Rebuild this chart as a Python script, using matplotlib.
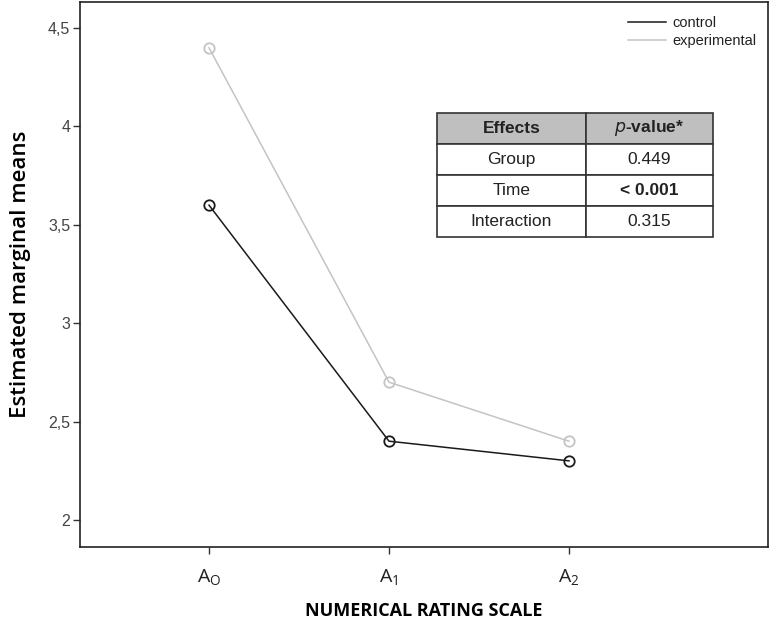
import matplotlib.pyplot as plt
from matplotlib.lines import Line2D
import numpy as np

# data
time_points = ['A$_\\mathregular{O}$', 'A$_\\mathregular{1}$', 'A$_\\mathregular{2}$']
control = [3.6, 2.4, 2.3]
experimental = [4.4, 2.7, 2.4]
y_ticks = [2, 2.5, 3, 3.5, 4, 4.5]
y_tick_labels = ['2', '2,5', '3', '3,5', '4', '4,5']

effects = ['Group', 'Time', 'Interaction']
p_values = ['0.449', '< 0.001', '0.315']

plt.rcParams['font.family'] = ['Liberation Sans', 'DejaVu Sans']

fig = plt.figure(figsize=(7.71, 6.21), dpi=100)
ax = fig.add_axes([80 / 771, 1 - 547 / 621, 688 / 771, 545 / 621])

dark = '#1a1a1a'
light = '#c4c4c4'
x = np.arange(len(time_points))
ax.plot(x, control, color=dark, lw=1.1, marker='o', ms=7.5,
        mfc='none', mec=dark, mew=1.3)
ax.plot(x, experimental, color=light, lw=1.1, marker='o', ms=7.5,
        mfc='none', mec=light, mew=1.3)

ax.set_xlim(-0.717, 3.106)
ax.set_ylim(1.862, 4.633)
ax.set_xticks(x)
ax.set_xticklabels(time_points, fontsize=14, family='Open Sans')
ax.set_yticks(y_ticks)
ax.set_yticklabels(y_tick_labels, fontsize=11.5)
ax.tick_params(axis='both', direction='out', length=5, width=1, colors='#333333')
ax.tick_params(axis='x', pad=10, labelcolor='#222222')
ax.tick_params(axis='y', pad=2, labelcolor='#444444')
for s in ax.spines.values():
    s.set_linewidth(1.2)
    s.set_color('#222222')

ax.set_ylabel('Estimated marginal means', fontsize=16, family='Open Sans',
              fontweight='semibold', labelpad=12)
ax.set_xlabel('NUMERICAL RATING SCALE', fontsize=13, family='Open Sans',
              fontweight='bold', labelpad=10)

handles = [Line2D([], [], color=dark, lw=1.1), Line2D([], [], color=light, lw=1.1)]
leg = ax.legend(handles, ['control', 'experimental'], loc='upper right',
                bbox_to_anchor=(1.0, 0.995), frameon=False,
                fontsize=10.5, handlelength=2.6, handletextpad=0.4,
                labelspacing=0.25, borderaxespad=0.4)
for t in leg.get_texts():
    t.set_color('#222222')

# effects table
tbl = ax.table(cellText=[[e, p] for e, p in zip(effects, p_values)],
               colLabels=['Effects', '$\\mathbf{\\it{p}}$-value*'],
               cellLoc='center', colWidths=[149 / 688, 127 / 688],
               bbox=[(437 - 80) / 688, (547 - 237) / 545, 276 / 688, 124 / 545])
tbl.auto_set_font_size(False)
tbl.set_fontsize(12.5)
for (r, c), cell in tbl.get_celld().items():
    cell.set_edgecolor('#333333')
    cell.set_linewidth(1.2)
    cell.get_text().set_color('#222222')
    if r == 0:
        cell.set_facecolor('#bfbfbf')
        cell.get_text().set_fontweight('bold')
    if r == 2 and c == 1:
        cell.get_text().set_fontweight('bold')

fig.savefig('out.png', dpi=100)
